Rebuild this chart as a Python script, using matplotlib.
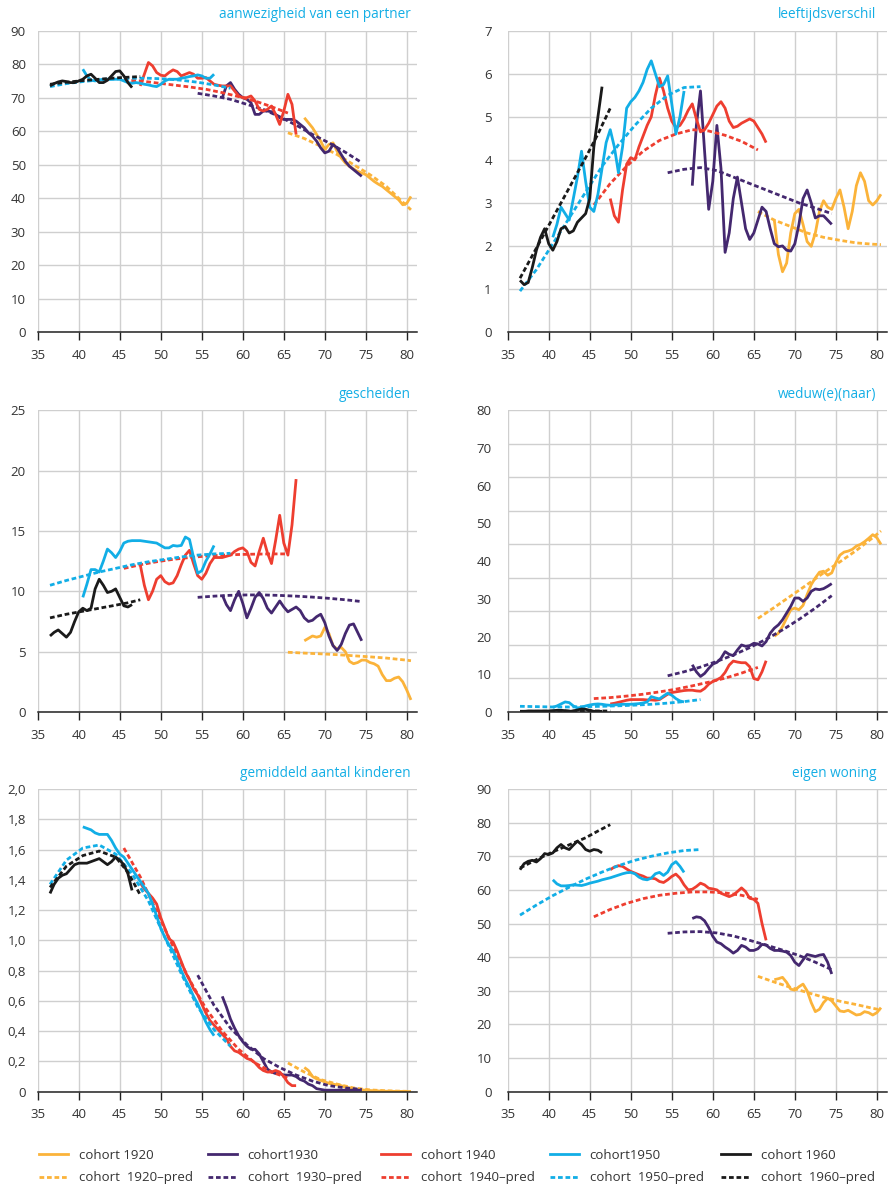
import numpy as np
import matplotlib
matplotlib.use("Agg")
import matplotlib.pyplot as plt
from matplotlib.lines import Line2D

plt.rcParams['font.family'] = ['Open Sans', 'DejaVu Sans']

# ---------------- ages ----------------
age_1960 = np.arange(36.5, 46.51, 0.5)
age_1950 = np.arange(40.5, 56.51, 0.5)
age_1940 = np.arange(47.5, 66.51, 0.5)
age_1930 = np.arange(57.5, 74.51, 0.5)
age_1920 = np.arange(67.5, 80.51, 0.5)

page_1960 = [36.5, 38.5, 40.5, 42.5, 44.5, 46.0, 47.5]
page_1950 = [36.5, 38.5, 40.5, 42.5, 44.5, 46.5, 48.5, 50.5, 52.5, 54.5, 56.5, 58.5]
page_1940 = [45.5, 47.5, 49.5, 51.5, 53.5, 55.5, 57.5, 59.5, 61.5, 63.5, 65.5]
page_1930 = [54.5, 56.5, 58.5, 60.5, 62.5, 64.5, 66.5, 68.5, 70.5, 72.5, 74.5]
page_1920 = [65.5, 67.5, 69.5, 71.5, 73.5, 75.5, 77.5, 79.5, 80.5]

cohorts = ["1920", "1930", "1940", "1950", "1960"]
labels_actual = ["cohort 1920", "cohort1930", "cohort 1940", "cohort1950", "cohort 1960"]
labels_pred = ["cohort  1920–pred", "cohort  1930–pred", "cohort  1940–pred",
               "cohort  1950–pred", "cohort  1960–pred"]
colors = ["#FBB33A", "#44286F", "#EE3E30", "#12AEE6", "#1A1A1A"]

# ---------------- aanwezigheid van een partner ----------------
aw_1960 = [73.5, 74.2, 74.7, 75.0, 74.8, 74.5, 74.5, 75.0, 75.5, 76.5, 77.0, 75.8, 74.5, 74.5, 75.2, 76.5, 77.8, 78.0, 76.5, 74.5, 73.0]
aw_1950 = [78.5, 76.5, 75.2, 75.0, 75.3, 75.5, 75.5, 75.5, 75.5, 75.5, 75.0, 74.5, 74.3, 74.5, 74.3, 74.0, 73.8, 73.5, 73.3, 74.0, 75.0, 75.5, 75.5, 75.5, 75.8, 76.0, 76.3, 76.5, 76.8, 76.5, 75.8, 75.8, 77.0]
aw_1940 = [73.5, 77.0, 80.5, 79.5, 77.5, 76.7, 76.5, 77.5, 78.3, 77.8, 76.5, 77.0, 77.5, 77.0, 75.8, 75.8, 76.0, 75.0, 74.0, 73.7, 73.5, 73.5, 73.5, 72.0, 70.5, 70.0, 70.0, 70.5, 69.0, 66.5, 66.0, 66.5, 67.5, 65.0, 62.0, 66.0, 71.0, 68.0, 59.0]
aw_1930 = [70.0, 73.5, 74.5, 72.5, 71.0, 70.0, 69.5, 68.5, 65.0, 65.0, 66.0, 66.0, 65.8, 65.0, 64.0, 63.5, 63.5, 63.5, 63.0, 62.0, 61.0, 59.5, 58.5, 57.0, 55.0, 53.5, 54.0, 56.0, 55.0, 53.0, 51.0, 49.5, 48.5, 47.5, 46.5]
aw_1920 = [64.0, 62.5, 61.0, 59.0, 57.0, 54.5, 56.0, 56.5, 54.0, 52.0, 50.5, 49.5, 48.7, 48.0, 47.5, 47.0, 46.0, 45.0, 44.2, 43.5, 42.5, 41.5, 40.5, 39.5, 38.0, 38.5, 40.5]
aw_1960p = [74.0, 74.6, 75.1, 75.5, 75.9, 76.1, 76.3]
aw_1950p = [73.3, 74.2, 74.8, 75.3, 75.6, 75.8, 75.8, 75.6, 75.2, 74.6, 73.8, 72.8]
aw_1940p = [75.2, 75.0, 74.4, 73.8, 73.2, 72.5, 71.5, 70.3, 69.0, 67.3, 65.4]
aw_1930p = [71.3, 70.5, 69.5, 68.0, 66.5, 64.3, 61.8, 59.0, 56.5, 53.7, 50.6]
aw_1920p = [59.5, 57.8, 55.5, 53.0, 50.0, 47.0, 43.5, 38.8, 36.5]

# ---------------- leeftijdsverschil ----------------
lv_1960 = [1.2, 1.1, 1.15, 1.5, 1.9, 2.2, 2.4, 2.05, 1.9, 2.1, 2.4, 2.45, 2.3, 2.35, 2.55, 2.65, 2.75, 3.1, 4.3, 5.0, 5.7]
lv_1950 = [2.2, 2.5, 2.9, 2.75, 2.6, 3.1, 3.6, 4.2, 3.5, 2.9, 2.8, 3.2, 3.8, 4.4, 4.7, 4.3, 3.7, 4.3, 5.2, 5.35, 5.45, 5.6, 5.8, 6.1, 6.3, 6.0, 5.7, 5.75, 5.95, 5.3, 4.6, 5.0, 5.6]
lv_1940 = [3.1, 2.7, 2.55, 3.3, 3.9, 4.05, 4.0, 4.3, 4.55, 4.8, 5.0, 5.5, 5.9, 5.6, 5.2, 4.9, 4.75, 4.8, 4.95, 5.15, 5.3, 4.95, 4.65, 4.7, 4.85, 5.05, 5.25, 5.35, 5.2, 4.9, 4.75, 4.78, 4.85, 4.9, 4.95, 4.9, 4.75, 4.6, 4.4]
lv_1930 = [3.4, 4.8, 5.6, 4.2, 2.85, 3.5, 4.8, 3.8, 1.85, 2.3, 3.1, 3.6, 3.0, 2.4, 2.15, 2.3, 2.6, 2.9, 2.8, 2.4, 2.05, 1.98, 2.0, 1.9, 1.88, 2.05, 2.5, 3.1, 3.3, 3.0, 2.65, 2.7, 2.7, 2.6, 2.5]
lv_1920 = [2.6, 1.8, 1.4, 1.6, 2.3, 2.75, 2.85, 2.5, 2.1, 1.99, 2.3, 2.8, 3.05, 2.9, 2.85, 3.1, 3.3, 2.9, 2.4, 2.8, 3.4, 3.7, 3.5, 3.05, 2.95, 3.05, 3.2]
lv_1960p = [1.25, 1.95, 2.65, 3.35, 4.05, 4.6, 5.2]
lv_1950p = [0.95, 1.45, 2.05, 2.65, 3.25, 3.85, 4.35, 4.8, 5.2, 5.5, 5.68, 5.7]
lv_1940p = [2.95, 3.45, 3.85, 4.2, 4.45, 4.6, 4.7, 4.67, 4.57, 4.43, 4.23]
lv_1930p = [3.7, 3.78, 3.82, 3.75, 3.6, 3.45, 3.3, 3.15, 3.0, 2.88, 2.75]
lv_1920p = [2.8, 2.6, 2.45, 2.3, 2.2, 2.13, 2.07, 2.04, 2.03]

# ---------------- gescheiden ----------------
gs_1960 = [6.3, 6.6, 6.8, 6.5, 6.2, 6.6, 7.5, 8.3, 8.6, 8.4, 8.6, 10.2, 11.0, 10.5, 9.9, 10.0, 10.2, 9.5, 8.8, 8.7, 8.9]
gs_1950 = [9.5, 10.6, 11.8, 11.8, 11.6, 12.5, 13.5, 13.2, 12.8, 13.3, 14.0, 14.15, 14.2, 14.2, 14.2, 14.15, 14.1, 14.05, 14.0, 13.8, 13.6, 13.6, 13.8, 13.75, 13.8, 14.5, 14.3, 12.8, 11.5, 11.7, 12.5, 13.1, 13.8]
gs_1940 = [12.2, 10.5, 9.3, 10.0, 11.0, 11.3, 10.8, 10.6, 10.7, 11.3, 12.2, 13.0, 13.4, 12.3, 11.3, 11.0, 11.5, 12.3, 12.8, 12.8, 12.8, 12.9, 13.0, 13.3, 13.5, 13.6, 13.3, 12.4, 12.1, 13.3, 14.4, 13.2, 12.3, 14.2, 16.3, 14.0, 13.0, 15.5, 19.3]
gs_1930 = [9.7, 8.9, 8.4, 9.3, 10.0, 9.0, 7.8, 8.6, 9.5, 9.9, 9.4, 8.6, 8.2, 8.7, 9.2, 8.7, 8.3, 8.5, 8.7, 8.4, 7.8, 7.5, 7.6, 7.9, 8.1, 7.4, 6.3, 5.5, 5.1, 5.6, 6.5, 7.2, 7.3, 6.6, 5.9]
gs_1920 = [5.9, 6.1, 6.3, 6.2, 6.3, 7.0, 6.5, 5.5, 5.2, 5.35, 5.0, 4.2, 4.0, 4.1, 4.3, 4.3, 4.1, 4.0, 3.8, 3.1, 2.6, 2.6, 2.8, 2.9, 2.5, 1.8, 1.0]
gs_1960p = [7.8, 8.1, 8.35, 8.6, 8.85, 9.05, 9.3]
gs_1950p = [10.5, 10.9, 11.25, 11.6, 11.9, 12.2, 12.45, 12.65, 12.85, 13.0, 13.1, 13.15]
gs_1940p = [11.9, 12.2, 12.45, 12.65, 12.8, 12.92, 13.0, 13.05, 13.08, 13.1, 13.1]
gs_1930p = [9.5, 9.6, 9.67, 9.7, 9.7, 9.66, 9.6, 9.52, 9.42, 9.3, 9.15]
gs_1920p = [4.95, 4.88, 4.82, 4.75, 4.66, 4.57, 4.47, 4.33, 4.25]

# ---------------- weduw(e)(naar)  (values on the grid-line scale) ----------------
wd_1960 = [0.2, 0.2, 0.3, 0.3, 0.3, 0.3, 0.3, 0.3, 0.4, 0.5, 0.5, 0.4, 0.2, 0.3, 0.6, 0.9, 0.8, 0.5, 0.2, 0.2, 0.2]
wd_1950 = [1.4, 1.8, 2.4, 3.0, 2.8, 1.8, 1.2, 1.4, 1.8, 2.1, 2.3, 2.4, 2.3, 2.1, 2.0, 2.1, 2.2, 2.3, 2.3, 2.3, 2.4, 2.5, 2.7, 3.0, 4.6, 4.2, 3.9, 4.8, 5.6, 5.0, 4.0, 3.3, 3.0]
wd_1940 = [2.4, 2.6, 2.9, 3.2, 3.5, 3.7, 3.7, 3.7, 3.7, 3.6, 3.6, 3.5, 3.7, 4.5, 5.3, 5.8, 6.0, 6.2, 6.4, 6.5, 6.5, 6.3, 6.2, 7.0, 8.3, 9.1, 9.6, 10.3, 11.8, 14.0, 15.2, 14.9, 14.7, 14.7, 13.5, 10.0, 9.6, 12.0, 15.3]
wd_1930 = [14.1, 12.0, 10.6, 11.5, 13.0, 14.3, 14.8, 16.0, 18.0, 17.2, 16.8, 18.5, 20.0, 19.6, 19.8, 20.5, 20.3, 19.7, 21.0, 23.5, 25.0, 26.0, 27.5, 29.5, 31.5, 34.0, 34.0, 33.0, 34.0, 36.0, 36.7, 36.5, 36.8, 37.5, 38.3]
wd_1920 = [22.6, 23.5, 25.5, 28.0, 30.5, 31.0, 30.5, 31.8, 35.0, 38.0, 40.0, 41.7, 42.0, 40.8, 41.5, 44.5, 46.8, 47.7, 48.0, 48.5, 49.5, 50.0, 50.8, 51.8, 52.9, 52.0, 50.0]
wd_1960p = [0.2, 0.2, 0.25, 0.3, 0.3, 0.3, 0.3]
wd_1950p = [1.7, 1.6, 1.5, 1.5, 1.6, 1.7, 1.85, 2.05, 2.3, 2.65, 3.1, 3.7]
wd_1940p = [4.0, 4.3, 4.75, 5.3, 6.0, 6.8, 7.8, 8.9, 10.1, 11.6, 13.3]
wd_1930p = [10.8, 12.0, 13.4, 15.1, 17.0, 19.2, 21.7, 24.5, 27.6, 31.0, 34.7]
wd_1920p = [27.9, 31.2, 34.6, 38.0, 41.5, 44.8, 48.2, 52.0, 54.0]

# ---------------- gemiddeld aantal kinderen ----------------
kd_1960 = [1.31, 1.37, 1.41, 1.43, 1.44, 1.47, 1.50, 1.51, 1.51, 1.51, 1.52, 1.53, 1.54, 1.52, 1.50, 1.52, 1.55, 1.53, 1.50, 1.44, 1.33]
kd_1950 = [1.75, 1.74, 1.73, 1.71, 1.70, 1.70, 1.70, 1.66, 1.61, 1.57, 1.55, 1.51, 1.47, 1.43, 1.39, 1.35, 1.31, 1.24, 1.16, 1.08, 1.02, 0.97, 0.93, 0.87, 0.80, 0.74, 0.69, 0.63, 0.58, 0.52, 0.46, 0.41, 0.37]
kd_1940 = [1.38, 1.34, 1.31, 1.28, 1.24, 1.15, 1.08, 1.01, 0.99, 0.93, 0.86, 0.79, 0.74, 0.68, 0.64, 0.58, 0.52, 0.47, 0.44, 0.41, 0.38, 0.35, 0.30, 0.27, 0.26, 0.24, 0.22, 0.21, 0.19, 0.16, 0.14, 0.13, 0.13, 0.14, 0.13, 0.10, 0.06, 0.04, 0.04]
kd_1930 = [0.63, 0.56, 0.48, 0.42, 0.37, 0.33, 0.30, 0.28, 0.28, 0.25, 0.20, 0.15, 0.13, 0.12, 0.12, 0.11, 0.11, 0.11, 0.10, 0.08, 0.07, 0.05, 0.04, 0.02, 0.015, 0.01, 0.01, 0.01, 0.01, 0.01, 0.01, 0.01, 0.01, 0.01, 0.01]
kd_1920 = [0.16, 0.14, 0.10, 0.085, 0.075, 0.065, 0.055, 0.05, 0.045, 0.04, 0.03, 0.025, 0.02, 0.015, 0.012, 0.01, 0.008, 0.006, 0.005, 0.004, 0.003, 0.003, 0.002, 0.002, 0.002, 0.001, 0.001]
kd_1960p = [1.35, 1.49, 1.56, 1.59, 1.55, 1.45, 1.30]
kd_1950p = [1.37, 1.53, 1.61, 1.63, 1.57, 1.44, 1.26, 1.02, 0.78, 0.56, 0.41, 0.30]
kd_1940p = [1.61, 1.42, 1.19, 0.96, 0.74, 0.55, 0.40, 0.28, 0.19, 0.13, 0.09]
kd_1930p = [0.77, 0.57, 0.42, 0.31, 0.22, 0.16, 0.11, 0.07, 0.04, 0.025, 0.015]
kd_1920p = [0.19, 0.13, 0.08, 0.05, 0.025, 0.012, 0.006, 0.003, 0.002]

# ---------------- eigen woning ----------------
ew_1960 = [66.0, 67.8, 68.5, 68.8, 68.3, 69.3, 70.8, 70.5, 71.0, 72.5, 73.5, 72.5, 72.0, 73.3, 74.5, 73.5, 72.0, 71.5, 72.0, 71.8, 71.0]
ew_1950 = [63.0, 61.8, 61.2, 61.2, 61.3, 61.5, 61.4, 61.3, 61.6, 62.0, 62.3, 62.6, 63.0, 63.3, 63.6, 64.0, 64.4, 64.8, 65.1, 65.2, 64.8, 63.8, 63.2, 63.0, 63.5, 64.8, 65.2, 64.3, 65.3, 67.5, 68.4, 67.0, 65.2]
ew_1940 = [66.0, 66.8, 67.2, 67.0, 66.2, 65.5, 65.0, 64.5, 64.1, 63.5, 63.5, 63.3, 62.5, 62.2, 63.0, 64.0, 64.7, 63.5, 61.5, 60.0, 60.2, 61.0, 62.0, 61.5, 60.5, 60.3, 60.0, 59.0, 58.5, 58.0, 58.5, 59.5, 60.6, 59.5, 57.5, 57.2, 56.0, 50.0, 45.0]
ew_1930 = [51.5, 52.0, 51.8, 50.8, 48.8, 46.2, 44.5, 44.0, 43.0, 42.2, 41.2, 42.0, 43.5, 43.0, 42.0, 42.0, 42.5, 43.8, 43.6, 42.6, 42.0, 42.0, 41.8, 41.5, 40.5, 38.5, 37.5, 39.2, 40.8, 40.5, 40.2, 40.6, 40.8, 38.5, 35.0]
ew_1920 = [33.3, 33.6, 34.0, 32.5, 30.5, 30.2, 31.2, 32.0, 30.0, 26.5, 23.8, 24.5, 26.5, 27.8, 27.0, 25.5, 24.0, 23.8, 24.2, 23.5, 22.8, 23.0, 23.8, 23.5, 22.8, 23.5, 25.0]
ew_1960p = [66.5, 69.0, 71.3, 73.4, 75.5, 77.5, 79.4]
ew_1950p = [52.5, 55.5, 58.3, 60.8, 63.2, 65.3, 67.2, 68.8, 70.0, 71.0, 71.7, 72.0]
ew_1940p = [52.0, 54.2, 56.0, 57.4, 58.4, 59.0, 59.4, 59.4, 59.1, 58.4, 57.2]
ew_1930p = [47.1, 47.5, 47.6, 47.2, 46.3, 45.0, 43.6, 42.1, 40.5, 38.5, 36.3]
ew_1920p = [34.3, 32.6, 31.0, 29.5, 28.1, 26.9, 25.9, 24.8, 24.3]

xticks = [35, 40, 45, 50, 55, 60, 65, 70, 75, 80]

ages = [age_1920, age_1930, age_1940, age_1950, age_1960]
pages = [page_1920, page_1930, page_1940, page_1950, page_1960]

GRID = "#cfcfcf"
TITLE_C = "#14AEE5"
TEXT_C = "#333333"
LW = 2.0
DASH = (0, (1.7, 1.0))

W, H = 889, 1188
fig = plt.figure(figsize=(W / 100, H / 100), dpi=100)


def make_axes(px_left, px_right, px_top, px_bottom):
    return fig.add_axes([px_left / W, 1 - px_bottom / H,
                         (px_right - px_left) / W, (px_bottom - px_top) / H])


def panel(ax, actual, pred, title, grid_vals, label_pos, label_txt, title_x, ypad):
    ymax = grid_vals[-1]
    for i in range(5):
        ax.plot(ages[i], actual[i], color=colors[i], lw=LW, solid_capstyle='butt', zorder=3)
        ax.plot(pages[i], pred[i], color=colors[i], lw=LW, linestyle=DASH, zorder=3)
    ax.set_xlim(35, 81.2)
    ax.set_ylim(0, ymax)
    ax.set_xticks(xticks)
    ax.set_xticklabels([str(v) for v in xticks], fontsize=9.5, color=TEXT_C)
    ax.tick_params(axis='x', direction='out', length=6, width=1.0, color='#222222', pad=6)
    ax.set_yticks(label_pos)
    ax.set_yticklabels(label_txt, fontsize=9.5, color=TEXT_C)
    ax.tick_params(axis='y', length=0, pad=ypad)
    ax.grid(True, axis='x', color=GRID, lw=1.0)
    for gv in grid_vals:
        ax.axhline(gv, color=GRID, lw=1.0, zorder=0.5)
    ax.set_axisbelow(True)
    for s in ['top', 'right', 'left']:
        ax.spines[s].set_visible(False)
    ax.spines['bottom'].set_color('#222222')
    ax.spines['bottom'].set_linewidth(1.1)
    ax.spines['bottom'].set_zorder(4)
    ax.annotate(title, xy=(title_x, 1.0), xycoords=('data', 'axes fraction'),
                xytext=(0, 11.5), textcoords='offset points', ha='right', va='center',
                fontsize=9.8, color=TITLE_C)


L = (37.7, 416.7)
R = (507.7, 886.7)
rows = [(30.7, 332.0), (410.3, 712.0), (789.0, 1091.7)]

ax1 = make_axes(L[0], L[1], rows[0][0], rows[0][1])
ax2 = make_axes(R[0], R[1], rows[0][0], rows[0][1])
ax3 = make_axes(L[0], L[1], rows[1][0], rows[1][1])
ax4 = make_axes(R[0], R[1], rows[1][0], rows[1][1])
ax5 = make_axes(L[0], L[1], rows[2][0], rows[2][1])
ax6 = make_axes(R[0], R[1], rows[2][0], rows[2][1])

g90 = list(range(0, 91, 10))
panel(ax1, [aw_1920, aw_1930, aw_1940, aw_1950, aw_1960],
      [aw_1920p, aw_1930p, aw_1940p, aw_1950p, aw_1960p],
      "aanwezigheid van een partner", g90, g90, [str(v) for v in g90], 80.45, 8.5)

g7 = list(range(0, 8))
panel(ax2, [lv_1920, lv_1930, lv_1940, lv_1950, lv_1960],
      [lv_1920p, lv_1930p, lv_1940p, lv_1950p, lv_1960p],
      "leeftijdsverschil", g7, g7, [str(v) for v in g7], 79.9, 11.5)

g25 = [0, 5, 10, 15, 20, 25]
panel(ax3, [gs_1920, gs_1930, gs_1940, gs_1950, gs_1960],
      [gs_1920p, gs_1930p, gs_1940p, gs_1950p, gs_1960p],
      "gescheiden", g25, g25, [str(v) for v in g25], 80.45, 8.5)

wd_labels = [0, 10, 20, 30, 40, 50, 60, 70, 80]
wd_label_pos = list(np.linspace(0, 90, len(wd_labels)))
panel(ax4, [wd_1920, wd_1930, wd_1940, wd_1950, wd_1960],
      [wd_1920p, wd_1930p, wd_1940p, wd_1950p, wd_1960p],
      "weduw(e)(naar)", g90, wd_label_pos, [str(v) for v in wd_labels], 79.9, 11.5)

g2 = [round(v * 0.2, 1) for v in range(0, 11)]
kd_labels = ["0"] + [f"{v:.1f}".replace(".", ",") for v in g2[1:]]
panel(ax5, [kd_1920, kd_1930, kd_1940, kd_1950, kd_1960],
      [kd_1920p, kd_1930p, kd_1940p, kd_1950p, kd_1960p],
      "gemiddeld aantal kinderen", g2, g2, kd_labels, 80.45, 8.5)

panel(ax6, [ew_1920, ew_1930, ew_1940, ew_1950, ew_1960],
      [ew_1920p, ew_1930p, ew_1940p, ew_1950p, ew_1960p],
      "eigen woning", g90, g90, [str(v) for v in g90], 79.9, 11.5)

# ---------------- legend: five small two-row legends ----------------
col_x = [39, 208, 381, 550, 721]
for i in range(5):
    h1 = Line2D([], [], color=colors[i], lw=LW)
    h2 = Line2D([], [], color=colors[i], lw=LW, linestyle=DASH)
    fig.legend([h1, h2], [labels_actual[i], labels_pred[i]], loc='center left',
               bbox_to_anchor=(col_x[i] / W, 1 - 1166.5 / H), frameon=False,
               borderpad=0, borderaxespad=0, handlelength=2.2, handletextpad=0.8,
               labelspacing=0.75, fontsize=9.5, labelcolor=TEXT_C)

fig.savefig("out.png", dpi=100)
